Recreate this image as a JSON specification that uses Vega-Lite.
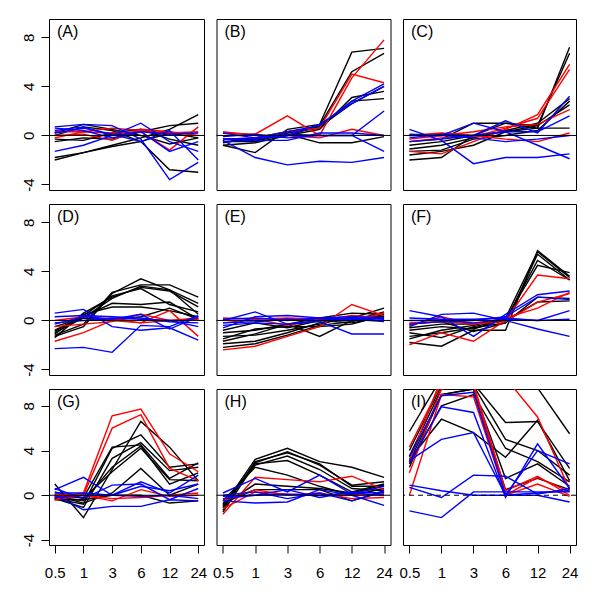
{
"$schema":"https://vega.github.io/schema/vega-lite/v6.json",
"background":"white",
"padding":{"left":20,"top":18,"right":5,"bottom":5},
"autosize":{"type":"pad"},
"config":{"view":{"stroke":"black","strokeWidth":1},"font":"Liberation Sans",
"title":{"anchor":"start","frame":"group","orient":"top","offset":-21,"baseline":"top","dx":8,"fontSize":16,"fontWeight":"normal","font":"Liberation Sans","color":"black"},
"axis":{"labelFont":"Liberation Sans","labelFontSize":15,"labelColor":"black","tickColor":"black","grid":false,"domain":false,"title":null,"tickSize":8}},
"datasets":{
"zero":[{"ref":0}],
"expr":[
{"p":"A","id":"A1","g":"c1","t":0.5,"v":-2.0},{"p":"A","id":"A1","g":"c1","t":1,"v":-1.4},{"p":"A","id":"A1","g":"c1","t":3,"v":-0.8},{"p":"A","id":"A1","g":"c1","t":6,"v":-0.2},{"p":"A","id":"A1","g":"c1","t":12,"v":0.5},{"p":"A","id":"A1","g":"c1","t":24,"v":1.7},
{"p":"A","id":"A2","g":"c1","t":0.5,"v":-1.8},{"p":"A","id":"A2","g":"c1","t":1,"v":-1.4},{"p":"A","id":"A2","g":"c1","t":3,"v":-0.9},{"p":"A","id":"A2","g":"c1","t":6,"v":-0.5},{"p":"A","id":"A2","g":"c1","t":12,"v":-2.8},{"p":"A","id":"A2","g":"c1","t":24,"v":-3.0},
{"p":"A","id":"A3","g":"c1","t":0.5,"v":0.2},{"p":"A","id":"A3","g":"c1","t":1,"v":0.9},{"p":"A","id":"A3","g":"c1","t":3,"v":0.5},{"p":"A","id":"A3","g":"c1","t":6,"v":0.0},{"p":"A","id":"A3","g":"c1","t":12,"v":-0.7},{"p":"A","id":"A3","g":"c1","t":24,"v":-0.2},
{"p":"A","id":"A4","g":"c1","t":0.5,"v":-0.5},{"p":"A","id":"A4","g":"c1","t":1,"v":-0.2},{"p":"A","id":"A4","g":"c1","t":3,"v":-0.3},{"p":"A","id":"A4","g":"c1","t":6,"v":0.3},{"p":"A","id":"A4","g":"c1","t":12,"v":0.8},{"p":"A","id":"A4","g":"c1","t":24,"v":1.0},
{"p":"A","id":"A5","g":"c1","t":0.5,"v":0.0},{"p":"A","id":"A5","g":"c1","t":1,"v":0.7},{"p":"A","id":"A5","g":"c1","t":3,"v":0.4},{"p":"A","id":"A5","g":"c1","t":6,"v":-0.5},{"p":"A","id":"A5","g":"c1","t":12,"v":0.2},{"p":"A","id":"A5","g":"c1","t":24,"v":-0.2},
{"p":"A","id":"A6","g":"c1","t":0.5,"v":-0.3},{"p":"A","id":"A6","g":"c1","t":1,"v":-0.4},{"p":"A","id":"A6","g":"c1","t":3,"v":0.2},{"p":"A","id":"A6","g":"c1","t":6,"v":0.5},{"p":"A","id":"A6","g":"c1","t":12,"v":-0.3},{"p":"A","id":"A6","g":"c1","t":24,"v":-0.8},
{"p":"A","id":"A7","g":"c2","t":0.5,"v":0.0},{"p":"A","id":"A7","g":"c2","t":1,"v":0.1},{"p":"A","id":"A7","g":"c2","t":3,"v":-0.4},{"p":"A","id":"A7","g":"c2","t":6,"v":0.5},{"p":"A","id":"A7","g":"c2","t":12,"v":0.3},{"p":"A","id":"A7","g":"c2","t":24,"v":0.0},
{"p":"A","id":"A8","g":"c2","t":0.5,"v":-0.2},{"p":"A","id":"A8","g":"c2","t":1,"v":0.3},{"p":"A","id":"A8","g":"c2","t":3,"v":0.2},{"p":"A","id":"A8","g":"c2","t":6,"v":0.3},{"p":"A","id":"A8","g":"c2","t":12,"v":-1.2},{"p":"A","id":"A8","g":"c2","t":24,"v":0.7},
{"p":"A","id":"A9","g":"c2","t":0.5,"v":0.3},{"p":"A","id":"A9","g":"c2","t":1,"v":0.3},{"p":"A","id":"A9","g":"c2","t":3,"v":0.6},{"p":"A","id":"A9","g":"c2","t":6,"v":0.4},{"p":"A","id":"A9","g":"c2","t":12,"v":0.2},{"p":"A","id":"A9","g":"c2","t":24,"v":0.3},
{"p":"A","id":"A10","g":"c3","t":0.5,"v":0.7},{"p":"A","id":"A10","g":"c3","t":1,"v":0.9},{"p":"A","id":"A10","g":"c3","t":3,"v":0.8},{"p":"A","id":"A10","g":"c3","t":6,"v":-0.3},{"p":"A","id":"A10","g":"c3","t":12,"v":-3.6},{"p":"A","id":"A10","g":"c3","t":24,"v":-2.2},
{"p":"A","id":"A11","g":"c3","t":0.5,"v":-1.3},{"p":"A","id":"A11","g":"c3","t":1,"v":-0.8},{"p":"A","id":"A11","g":"c3","t":3,"v":0.0},{"p":"A","id":"A11","g":"c3","t":6,"v":1.0},{"p":"A","id":"A11","g":"c3","t":12,"v":-0.5},{"p":"A","id":"A11","g":"c3","t":24,"v":-1.3},
{"p":"A","id":"A12","g":"c3","t":0.5,"v":0.6},{"p":"A","id":"A12","g":"c3","t":1,"v":0.4},{"p":"A","id":"A12","g":"c3","t":3,"v":-0.2},{"p":"A","id":"A12","g":"c3","t":6,"v":0.3},{"p":"A","id":"A12","g":"c3","t":12,"v":-1.3},{"p":"A","id":"A12","g":"c3","t":24,"v":-0.5},
{"p":"A","id":"A13","g":"c3","t":0.5,"v":0.4},{"p":"A","id":"A13","g":"c3","t":1,"v":0.7},{"p":"A","id":"A13","g":"c3","t":3,"v":0.0},{"p":"A","id":"A13","g":"c3","t":6,"v":0.3},{"p":"A","id":"A13","g":"c3","t":12,"v":0.1},{"p":"A","id":"A13","g":"c3","t":24,"v":0.2},
{"p":"A","id":"A14","g":"c3","t":0.5,"v":0.2},{"p":"A","id":"A14","g":"c3","t":1,"v":0.6},{"p":"A","id":"A14","g":"c3","t":3,"v":0.1},{"p":"A","id":"A14","g":"c3","t":6,"v":-0.5},{"p":"A","id":"A14","g":"c3","t":12,"v":0.4},{"p":"A","id":"A14","g":"c3","t":24,"v":-2.0},
{"p":"B","id":"B1","g":"c1","t":0.5,"v":-0.8},{"p":"B","id":"B1","g":"c1","t":1,"v":-1.4},{"p":"B","id":"B1","g":"c1","t":3,"v":0.5},{"p":"B","id":"B1","g":"c1","t":6,"v":0.9},{"p":"B","id":"B1","g":"c1","t":12,"v":6.8},{"p":"B","id":"B1","g":"c1","t":24,"v":7.1},
{"p":"B","id":"B2","g":"c1","t":0.5,"v":-0.5},{"p":"B","id":"B2","g":"c1","t":1,"v":-0.3},{"p":"B","id":"B2","g":"c1","t":3,"v":0.0},{"p":"B","id":"B2","g":"c1","t":6,"v":0.8},{"p":"B","id":"B2","g":"c1","t":12,"v":5.2},{"p":"B","id":"B2","g":"c1","t":24,"v":6.7},
{"p":"B","id":"B3","g":"c1","t":0.5,"v":-0.8},{"p":"B","id":"B3","g":"c1","t":1,"v":-0.6},{"p":"B","id":"B3","g":"c1","t":3,"v":0.0},{"p":"B","id":"B3","g":"c1","t":6,"v":0.5},{"p":"B","id":"B3","g":"c1","t":12,"v":3.1},{"p":"B","id":"B3","g":"c1","t":24,"v":3.6},
{"p":"B","id":"B4","g":"c1","t":0.5,"v":-0.5},{"p":"B","id":"B4","g":"c1","t":1,"v":-0.5},{"p":"B","id":"B4","g":"c1","t":3,"v":0.2},{"p":"B","id":"B4","g":"c1","t":6,"v":0.6},{"p":"B","id":"B4","g":"c1","t":12,"v":2.8},{"p":"B","id":"B4","g":"c1","t":24,"v":3.0},
{"p":"B","id":"B5","g":"c1","t":0.5,"v":-0.3},{"p":"B","id":"B5","g":"c1","t":1,"v":-0.4},{"p":"B","id":"B5","g":"c1","t":3,"v":0.1},{"p":"B","id":"B5","g":"c1","t":6,"v":-0.6},{"p":"B","id":"B5","g":"c1","t":12,"v":-0.6},{"p":"B","id":"B5","g":"c1","t":24,"v":-0.1},
{"p":"B","id":"B6","g":"c1","t":0.5,"v":-0.6},{"p":"B","id":"B6","g":"c1","t":1,"v":-0.2},{"p":"B","id":"B6","g":"c1","t":3,"v":0.3},{"p":"B","id":"B6","g":"c1","t":6,"v":0.7},{"p":"B","id":"B6","g":"c1","t":12,"v":2.6},{"p":"B","id":"B6","g":"c1","t":24,"v":4.0},
{"p":"B","id":"B7","g":"c2","t":0.5,"v":0.2},{"p":"B","id":"B7","g":"c2","t":1,"v":0.1},{"p":"B","id":"B7","g":"c2","t":3,"v":1.6},{"p":"B","id":"B7","g":"c2","t":6,"v":0.0},{"p":"B","id":"B7","g":"c2","t":12,"v":4.7},{"p":"B","id":"B7","g":"c2","t":24,"v":7.8},
{"p":"B","id":"B8","g":"c2","t":0.5,"v":-0.3},{"p":"B","id":"B8","g":"c2","t":1,"v":-0.2},{"p":"B","id":"B8","g":"c2","t":3,"v":0.3},{"p":"B","id":"B8","g":"c2","t":6,"v":0.6},{"p":"B","id":"B8","g":"c2","t":12,"v":5.0},{"p":"B","id":"B8","g":"c2","t":24,"v":4.3},
{"p":"B","id":"B9","g":"c2","t":0.5,"v":0.3},{"p":"B","id":"B9","g":"c2","t":1,"v":0.0},{"p":"B","id":"B9","g":"c2","t":3,"v":0.0},{"p":"B","id":"B9","g":"c2","t":6,"v":-0.2},{"p":"B","id":"B9","g":"c2","t":12,"v":0.5},{"p":"B","id":"B9","g":"c2","t":24,"v":0.0},
{"p":"B","id":"B10","g":"c3","t":0.5,"v":-0.4},{"p":"B","id":"B10","g":"c3","t":1,"v":-1.8},{"p":"B","id":"B10","g":"c3","t":3,"v":-2.4},{"p":"B","id":"B10","g":"c3","t":6,"v":-2.1},{"p":"B","id":"B10","g":"c3","t":12,"v":-2.2},{"p":"B","id":"B10","g":"c3","t":24,"v":-1.8},
{"p":"B","id":"B11","g":"c3","t":0.5,"v":-0.3},{"p":"B","id":"B11","g":"c3","t":1,"v":-0.2},{"p":"B","id":"B11","g":"c3","t":3,"v":0.3},{"p":"B","id":"B11","g":"c3","t":6,"v":0.8},{"p":"B","id":"B11","g":"c3","t":12,"v":2.8},{"p":"B","id":"B11","g":"c3","t":24,"v":4.2},
{"p":"B","id":"B12","g":"c3","t":0.5,"v":-0.1},{"p":"B","id":"B12","g":"c3","t":1,"v":0.1},{"p":"B","id":"B12","g":"c3","t":3,"v":-0.2},{"p":"B","id":"B12","g":"c3","t":6,"v":0.0},{"p":"B","id":"B12","g":"c3","t":12,"v":0.0},{"p":"B","id":"B12","g":"c3","t":24,"v":2.0},
{"p":"B","id":"B13","g":"c3","t":0.5,"v":0.2},{"p":"B","id":"B13","g":"c3","t":1,"v":-0.2},{"p":"B","id":"B13","g":"c3","t":3,"v":0.1},{"p":"B","id":"B13","g":"c3","t":6,"v":0.0},{"p":"B","id":"B13","g":"c3","t":12,"v":0.0},{"p":"B","id":"B13","g":"c3","t":24,"v":-1.3},
{"p":"B","id":"B14","g":"c3","t":0.5,"v":-0.3},{"p":"B","id":"B14","g":"c3","t":1,"v":-0.3},{"p":"B","id":"B14","g":"c3","t":3,"v":0.0},{"p":"B","id":"B14","g":"c3","t":6,"v":0.9},{"p":"B","id":"B14","g":"c3","t":12,"v":2.6},{"p":"B","id":"B14","g":"c3","t":24,"v":4.0},
{"p":"B","id":"B15","g":"c3","t":0.5,"v":-0.5},{"p":"B","id":"B15","g":"c3","t":1,"v":-0.4},{"p":"B","id":"B15","g":"c3","t":3,"v":-0.4},{"p":"B","id":"B15","g":"c3","t":6,"v":0.2},{"p":"B","id":"B15","g":"c3","t":12,"v":0.2},{"p":"B","id":"B15","g":"c3","t":24,"v":0.0},
{"p":"C","id":"C1","g":"c1","t":0.5,"v":-2.0},{"p":"C","id":"C1","g":"c1","t":1,"v":-1.8},{"p":"C","id":"C1","g":"c1","t":3,"v":0.0},{"p":"C","id":"C1","g":"c1","t":6,"v":0.3},{"p":"C","id":"C1","g":"c1","t":12,"v":0.6},{"p":"C","id":"C1","g":"c1","t":24,"v":7.2},
{"p":"C","id":"C2","g":"c1","t":0.5,"v":-1.6},{"p":"C","id":"C2","g":"c1","t":1,"v":-1.3},{"p":"C","id":"C2","g":"c1","t":3,"v":-0.8},{"p":"C","id":"C2","g":"c1","t":6,"v":0.3},{"p":"C","id":"C2","g":"c1","t":12,"v":0.8},{"p":"C","id":"C2","g":"c1","t":24,"v":6.7},
{"p":"C","id":"C3","g":"c1","t":0.5,"v":-1.1},{"p":"C","id":"C3","g":"c1","t":1,"v":-0.8},{"p":"C","id":"C3","g":"c1","t":3,"v":-0.2},{"p":"C","id":"C3","g":"c1","t":6,"v":0.4},{"p":"C","id":"C3","g":"c1","t":12,"v":1.0},{"p":"C","id":"C3","g":"c1","t":24,"v":3.0},
{"p":"C","id":"C4","g":"c1","t":0.5,"v":-0.8},{"p":"C","id":"C4","g":"c1","t":1,"v":-0.5},{"p":"C","id":"C4","g":"c1","t":3,"v":0.0},{"p":"C","id":"C4","g":"c1","t":6,"v":1.0},{"p":"C","id":"C4","g":"c1","t":12,"v":0.8},{"p":"C","id":"C4","g":"c1","t":24,"v":2.5},
{"p":"C","id":"C5","g":"c1","t":0.5,"v":-0.5},{"p":"C","id":"C5","g":"c1","t":1,"v":-0.3},{"p":"C","id":"C5","g":"c1","t":3,"v":1.0},{"p":"C","id":"C5","g":"c1","t":6,"v":1.0},{"p":"C","id":"C5","g":"c1","t":12,"v":0.6},{"p":"C","id":"C5","g":"c1","t":24,"v":0.6},
{"p":"C","id":"C6","g":"c1","t":0.5,"v":-1.3},{"p":"C","id":"C6","g":"c1","t":1,"v":-1.2},{"p":"C","id":"C6","g":"c1","t":3,"v":-0.3},{"p":"C","id":"C6","g":"c1","t":6,"v":0.0},{"p":"C","id":"C6","g":"c1","t":12,"v":0.4},{"p":"C","id":"C6","g":"c1","t":24,"v":2.8},
{"p":"C","id":"C7","g":"c2","t":0.5,"v":-1.3},{"p":"C","id":"C7","g":"c2","t":1,"v":-1.5},{"p":"C","id":"C7","g":"c2","t":3,"v":-0.5},{"p":"C","id":"C7","g":"c2","t":6,"v":0.5},{"p":"C","id":"C7","g":"c2","t":12,"v":1.7},{"p":"C","id":"C7","g":"c2","t":24,"v":5.8},
{"p":"C","id":"C8","g":"c2","t":0.5,"v":-0.5},{"p":"C","id":"C8","g":"c2","t":1,"v":-0.2},{"p":"C","id":"C8","g":"c2","t":3,"v":-0.1},{"p":"C","id":"C8","g":"c2","t":6,"v":0.6},{"p":"C","id":"C8","g":"c2","t":12,"v":1.4},{"p":"C","id":"C8","g":"c2","t":24,"v":5.4},
{"p":"C","id":"C9","g":"c2","t":0.5,"v":0.0},{"p":"C","id":"C9","g":"c2","t":1,"v":0.2},{"p":"C","id":"C9","g":"c2","t":3,"v":0.0},{"p":"C","id":"C9","g":"c2","t":6,"v":-0.3},{"p":"C","id":"C9","g":"c2","t":12,"v":-0.5},{"p":"C","id":"C9","g":"c2","t":24,"v":0.2},
{"p":"C","id":"C10","g":"c2","t":0.5,"v":-0.3},{"p":"C","id":"C10","g":"c2","t":1,"v":0.0},{"p":"C","id":"C10","g":"c2","t":3,"v":0.3},{"p":"C","id":"C10","g":"c2","t":6,"v":0.7},{"p":"C","id":"C10","g":"c2","t":12,"v":0.9},{"p":"C","id":"C10","g":"c2","t":24,"v":2.1},
{"p":"C","id":"C11","g":"c3","t":0.5,"v":0.5},{"p":"C","id":"C11","g":"c3","t":1,"v":-0.4},{"p":"C","id":"C11","g":"c3","t":3,"v":-2.3},{"p":"C","id":"C11","g":"c3","t":6,"v":-1.8},{"p":"C","id":"C11","g":"c3","t":12,"v":-1.8},{"p":"C","id":"C11","g":"c3","t":24,"v":-1.5},
{"p":"C","id":"C12","g":"c3","t":0.5,"v":0.0},{"p":"C","id":"C12","g":"c3","t":1,"v":0.0},{"p":"C","id":"C12","g":"c3","t":3,"v":1.0},{"p":"C","id":"C12","g":"c3","t":6,"v":0.3},{"p":"C","id":"C12","g":"c3","t":12,"v":-0.8},{"p":"C","id":"C12","g":"c3","t":24,"v":-1.9},
{"p":"C","id":"C13","g":"c3","t":0.5,"v":-0.2},{"p":"C","id":"C13","g":"c3","t":1,"v":0.1},{"p":"C","id":"C13","g":"c3","t":3,"v":0.0},{"p":"C","id":"C13","g":"c3","t":6,"v":1.2},{"p":"C","id":"C13","g":"c3","t":12,"v":0.2},{"p":"C","id":"C13","g":"c3","t":24,"v":3.2},
{"p":"C","id":"C14","g":"c3","t":0.5,"v":-0.5},{"p":"C","id":"C14","g":"c3","t":1,"v":-0.3},{"p":"C","id":"C14","g":"c3","t":3,"v":0.0},{"p":"C","id":"C14","g":"c3","t":6,"v":0.3},{"p":"C","id":"C14","g":"c3","t":12,"v":0.3},{"p":"C","id":"C14","g":"c3","t":24,"v":1.6},
{"p":"C","id":"C15","g":"c3","t":0.5,"v":0.1},{"p":"C","id":"C15","g":"c3","t":1,"v":0.0},{"p":"C","id":"C15","g":"c3","t":3,"v":-0.2},{"p":"C","id":"C15","g":"c3","t":6,"v":-0.5},{"p":"C","id":"C15","g":"c3","t":12,"v":-0.3},{"p":"C","id":"C15","g":"c3","t":24,"v":0.0},
{"p":"D","id":"D1","g":"c1","t":0.5,"v":-1.2},{"p":"D","id":"D1","g":"c1","t":1,"v":-0.3},{"p":"D","id":"D1","g":"c1","t":3,"v":2.3},{"p":"D","id":"D1","g":"c1","t":6,"v":2.9},{"p":"D","id":"D1","g":"c1","t":12,"v":2.9},{"p":"D","id":"D1","g":"c1","t":24,"v":1.9},
{"p":"D","id":"D2","g":"c1","t":0.5,"v":-1.3},{"p":"D","id":"D2","g":"c1","t":1,"v":-0.5},{"p":"D","id":"D2","g":"c1","t":3,"v":2.2},{"p":"D","id":"D2","g":"c1","t":6,"v":3.4},{"p":"D","id":"D2","g":"c1","t":12,"v":2.5},{"p":"D","id":"D2","g":"c1","t":24,"v":1.4},
{"p":"D","id":"D3","g":"c1","t":0.5,"v":-1.0},{"p":"D","id":"D3","g":"c1","t":1,"v":0.2},{"p":"D","id":"D3","g":"c1","t":3,"v":1.8},{"p":"D","id":"D3","g":"c1","t":6,"v":2.8},{"p":"D","id":"D3","g":"c1","t":12,"v":2.5},{"p":"D","id":"D3","g":"c1","t":24,"v":0.5},
{"p":"D","id":"D4","g":"c1","t":0.5,"v":-1.1},{"p":"D","id":"D4","g":"c1","t":1,"v":0.5},{"p":"D","id":"D4","g":"c1","t":3,"v":1.1},{"p":"D","id":"D4","g":"c1","t":6,"v":1.1},{"p":"D","id":"D4","g":"c1","t":12,"v":0.8},{"p":"D","id":"D4","g":"c1","t":24,"v":0.3},
{"p":"D","id":"D5","g":"c1","t":0.5,"v":-0.8},{"p":"D","id":"D5","g":"c1","t":1,"v":0.3},{"p":"D","id":"D5","g":"c1","t":3,"v":1.4},{"p":"D","id":"D5","g":"c1","t":6,"v":1.3},{"p":"D","id":"D5","g":"c1","t":12,"v":1.5},{"p":"D","id":"D5","g":"c1","t":24,"v":0.1},
{"p":"D","id":"D6","g":"c1","t":0.5,"v":-1.4},{"p":"D","id":"D6","g":"c1","t":1,"v":0.6},{"p":"D","id":"D6","g":"c1","t":3,"v":1.9},{"p":"D","id":"D6","g":"c1","t":6,"v":2.7},{"p":"D","id":"D6","g":"c1","t":12,"v":2.4},{"p":"D","id":"D6","g":"c1","t":24,"v":1.1},
{"p":"D","id":"D7","g":"c1","t":0.5,"v":-0.5},{"p":"D","id":"D7","g":"c1","t":1,"v":0.2},{"p":"D","id":"D7","g":"c1","t":3,"v":0.0},{"p":"D","id":"D7","g":"c1","t":6,"v":0.3},{"p":"D","id":"D7","g":"c1","t":12,"v":1.0},{"p":"D","id":"D7","g":"c1","t":24,"v":0.1},
{"p":"D","id":"D8","g":"c1","t":0.5,"v":-0.9},{"p":"D","id":"D8","g":"c1","t":1,"v":0.4},{"p":"D","id":"D8","g":"c1","t":3,"v":2.0},{"p":"D","id":"D8","g":"c1","t":6,"v":2.6},{"p":"D","id":"D8","g":"c1","t":12,"v":1.3},{"p":"D","id":"D8","g":"c1","t":24,"v":0.7},
{"p":"D","id":"D9","g":"c2","t":0.5,"v":-1.7},{"p":"D","id":"D9","g":"c2","t":1,"v":-1.0},{"p":"D","id":"D9","g":"c2","t":3,"v":0.0},{"p":"D","id":"D9","g":"c2","t":6,"v":-0.2},{"p":"D","id":"D9","g":"c2","t":12,"v":0.8},{"p":"D","id":"D9","g":"c2","t":24,"v":-1.3},
{"p":"D","id":"D10","g":"c2","t":0.5,"v":-0.5},{"p":"D","id":"D10","g":"c2","t":1,"v":-0.3},{"p":"D","id":"D10","g":"c2","t":3,"v":-0.1},{"p":"D","id":"D10","g":"c2","t":6,"v":0.5},{"p":"D","id":"D10","g":"c2","t":12,"v":0.0},{"p":"D","id":"D10","g":"c2","t":24,"v":0.2},
{"p":"D","id":"D11","g":"c2","t":0.5,"v":0.0},{"p":"D","id":"D11","g":"c2","t":1,"v":0.3},{"p":"D","id":"D11","g":"c2","t":3,"v":0.1},{"p":"D","id":"D11","g":"c2","t":6,"v":-0.2},{"p":"D","id":"D11","g":"c2","t":12,"v":0.0},{"p":"D","id":"D11","g":"c2","t":24,"v":0.1},
{"p":"D","id":"D12","g":"c3","t":0.5,"v":-2.3},{"p":"D","id":"D12","g":"c3","t":1,"v":-2.2},{"p":"D","id":"D12","g":"c3","t":3,"v":-2.6},{"p":"D","id":"D12","g":"c3","t":6,"v":-0.4},{"p":"D","id":"D12","g":"c3","t":12,"v":-0.5},{"p":"D","id":"D12","g":"c3","t":24,"v":0.4},
{"p":"D","id":"D13","g":"c3","t":0.5,"v":0.6},{"p":"D","id":"D13","g":"c3","t":1,"v":0.9},{"p":"D","id":"D13","g":"c3","t":3,"v":-0.5},{"p":"D","id":"D13","g":"c3","t":6,"v":-0.8},{"p":"D","id":"D13","g":"c3","t":12,"v":-0.6},{"p":"D","id":"D13","g":"c3","t":24,"v":-1.6},
{"p":"D","id":"D14","g":"c3","t":0.5,"v":0.3},{"p":"D","id":"D14","g":"c3","t":1,"v":0.4},{"p":"D","id":"D14","g":"c3","t":3,"v":0.3},{"p":"D","id":"D14","g":"c3","t":6,"v":0.2},{"p":"D","id":"D14","g":"c3","t":12,"v":-0.1},{"p":"D","id":"D14","g":"c3","t":24,"v":-0.2},
{"p":"D","id":"D15","g":"c3","t":0.5,"v":-0.3},{"p":"D","id":"D15","g":"c3","t":1,"v":0.3},{"p":"D","id":"D15","g":"c3","t":3,"v":0.1},{"p":"D","id":"D15","g":"c3","t":6,"v":0.5},{"p":"D","id":"D15","g":"c3","t":12,"v":-0.7},{"p":"D","id":"D15","g":"c3","t":24,"v":0.3},
{"p":"D","id":"D16","g":"c3","t":0.5,"v":-0.2},{"p":"D","id":"D16","g":"c3","t":1,"v":0.0},{"p":"D","id":"D16","g":"c3","t":3,"v":0.2},{"p":"D","id":"D16","g":"c3","t":6,"v":0.1},{"p":"D","id":"D16","g":"c3","t":12,"v":0.0},{"p":"D","id":"D16","g":"c3","t":24,"v":-0.5},
{"p":"E","id":"E1","g":"c1","t":0.5,"v":-1.9},{"p":"E","id":"E1","g":"c1","t":1,"v":-1.7},{"p":"E","id":"E1","g":"c1","t":3,"v":-1.0},{"p":"E","id":"E1","g":"c1","t":6,"v":-0.2},{"p":"E","id":"E1","g":"c1","t":12,"v":0.2},{"p":"E","id":"E1","g":"c1","t":24,"v":1.0},
{"p":"E","id":"E2","g":"c1","t":0.5,"v":-1.7},{"p":"E","id":"E2","g":"c1","t":1,"v":-1.1},{"p":"E","id":"E2","g":"c1","t":3,"v":-0.3},{"p":"E","id":"E2","g":"c1","t":6,"v":-1.3},{"p":"E","id":"E2","g":"c1","t":12,"v":0.0},{"p":"E","id":"E2","g":"c1","t":24,"v":0.7},
{"p":"E","id":"E3","g":"c1","t":0.5,"v":-1.5},{"p":"E","id":"E3","g":"c1","t":1,"v":-0.7},{"p":"E","id":"E3","g":"c1","t":3,"v":-0.5},{"p":"E","id":"E3","g":"c1","t":6,"v":-0.5},{"p":"E","id":"E3","g":"c1","t":12,"v":-0.3},{"p":"E","id":"E3","g":"c1","t":24,"v":0.4},
{"p":"E","id":"E4","g":"c1","t":0.5,"v":-1.3},{"p":"E","id":"E4","g":"c1","t":1,"v":-1.2},{"p":"E","id":"E4","g":"c1","t":3,"v":-0.8},{"p":"E","id":"E4","g":"c1","t":6,"v":-0.3},{"p":"E","id":"E4","g":"c1","t":12,"v":0.3},{"p":"E","id":"E4","g":"c1","t":24,"v":0.3},
{"p":"E","id":"E5","g":"c1","t":0.5,"v":-1.0},{"p":"E","id":"E5","g":"c1","t":1,"v":-0.8},{"p":"E","id":"E5","g":"c1","t":3,"v":-0.3},{"p":"E","id":"E5","g":"c1","t":6,"v":0.2},{"p":"E","id":"E5","g":"c1","t":12,"v":0.6},{"p":"E","id":"E5","g":"c1","t":24,"v":0.5},
{"p":"E","id":"E6","g":"c1","t":0.5,"v":-0.8},{"p":"E","id":"E6","g":"c1","t":1,"v":-0.2},{"p":"E","id":"E6","g":"c1","t":3,"v":-0.6},{"p":"E","id":"E6","g":"c1","t":6,"v":0.0},{"p":"E","id":"E6","g":"c1","t":12,"v":-0.2},{"p":"E","id":"E6","g":"c1","t":24,"v":0.3},
{"p":"E","id":"E7","g":"c1","t":0.5,"v":-2.2},{"p":"E","id":"E7","g":"c1","t":1,"v":-1.9},{"p":"E","id":"E7","g":"c1","t":3,"v":-1.2},{"p":"E","id":"E7","g":"c1","t":6,"v":-0.4},{"p":"E","id":"E7","g":"c1","t":12,"v":-0.1},{"p":"E","id":"E7","g":"c1","t":24,"v":0.5},
{"p":"E","id":"E8","g":"c2","t":0.5,"v":-2.4},{"p":"E","id":"E8","g":"c2","t":1,"v":-2.1},{"p":"E","id":"E8","g":"c2","t":3,"v":-1.3},{"p":"E","id":"E8","g":"c2","t":6,"v":-0.5},{"p":"E","id":"E8","g":"c2","t":12,"v":1.3},{"p":"E","id":"E8","g":"c2","t":24,"v":0.4},
{"p":"E","id":"E9","g":"c2","t":0.5,"v":-0.2},{"p":"E","id":"E9","g":"c2","t":1,"v":0.1},{"p":"E","id":"E9","g":"c2","t":3,"v":-0.4},{"p":"E","id":"E9","g":"c2","t":6,"v":0.0},{"p":"E","id":"E9","g":"c2","t":12,"v":0.4},{"p":"E","id":"E9","g":"c2","t":24,"v":0.2},
{"p":"E","id":"E10","g":"c2","t":0.5,"v":0.2},{"p":"E","id":"E10","g":"c2","t":1,"v":0.1},{"p":"E","id":"E10","g":"c2","t":3,"v":0.2},{"p":"E","id":"E10","g":"c2","t":6,"v":0.1},{"p":"E","id":"E10","g":"c2","t":12,"v":0.0},{"p":"E","id":"E10","g":"c2","t":24,"v":0.6},
{"p":"E","id":"E11","g":"c3","t":0.5,"v":0.0},{"p":"E","id":"E11","g":"c3","t":1,"v":0.7},{"p":"E","id":"E11","g":"c3","t":3,"v":-0.3},{"p":"E","id":"E11","g":"c3","t":6,"v":-0.1},{"p":"E","id":"E11","g":"c3","t":12,"v":-1.1},{"p":"E","id":"E11","g":"c3","t":24,"v":-1.1},
{"p":"E","id":"E12","g":"c3","t":0.5,"v":-0.6},{"p":"E","id":"E12","g":"c3","t":1,"v":0.3},{"p":"E","id":"E12","g":"c3","t":3,"v":0.4},{"p":"E","id":"E12","g":"c3","t":6,"v":0.2},{"p":"E","id":"E12","g":"c3","t":12,"v":0.3},{"p":"E","id":"E12","g":"c3","t":24,"v":0.2},
{"p":"E","id":"E13","g":"c3","t":0.5,"v":-0.2},{"p":"E","id":"E13","g":"c3","t":1,"v":-0.1},{"p":"E","id":"E13","g":"c3","t":3,"v":0.1},{"p":"E","id":"E13","g":"c3","t":6,"v":0.0},{"p":"E","id":"E13","g":"c3","t":12,"v":0.2},{"p":"E","id":"E13","g":"c3","t":24,"v":0.1},
{"p":"E","id":"E14","g":"c3","t":0.5,"v":0.1},{"p":"E","id":"E14","g":"c3","t":1,"v":0.2},{"p":"E","id":"E14","g":"c3","t":3,"v":0.0},{"p":"E","id":"E14","g":"c3","t":6,"v":0.2},{"p":"E","id":"E14","g":"c3","t":12,"v":0.1},{"p":"E","id":"E14","g":"c3","t":24,"v":-0.1},
{"p":"E","id":"E15","g":"c3","t":0.5,"v":-0.4},{"p":"E","id":"E15","g":"c3","t":1,"v":-0.2},{"p":"E","id":"E15","g":"c3","t":3,"v":-0.3},{"p":"E","id":"E15","g":"c3","t":6,"v":0.0},{"p":"E","id":"E15","g":"c3","t":12,"v":0.0},{"p":"E","id":"E15","g":"c3","t":24,"v":0.2},
{"p":"F","id":"F1","g":"c1","t":0.5,"v":-1.8},{"p":"F","id":"F1","g":"c1","t":1,"v":-2.1},{"p":"F","id":"F1","g":"c1","t":3,"v":-0.8},{"p":"F","id":"F1","g":"c1","t":6,"v":-0.8},{"p":"F","id":"F1","g":"c1","t":12,"v":5.7},{"p":"F","id":"F1","g":"c1","t":24,"v":3.6},
{"p":"F","id":"F2","g":"c1","t":0.5,"v":-1.3},{"p":"F","id":"F2","g":"c1","t":1,"v":-1.0},{"p":"F","id":"F2","g":"c1","t":3,"v":-0.6},{"p":"F","id":"F2","g":"c1","t":6,"v":-0.2},{"p":"F","id":"F2","g":"c1","t":12,"v":5.4},{"p":"F","id":"F2","g":"c1","t":24,"v":3.3},
{"p":"F","id":"F3","g":"c1","t":0.5,"v":-1.0},{"p":"F","id":"F3","g":"c1","t":1,"v":-1.4},{"p":"F","id":"F3","g":"c1","t":3,"v":-0.5},{"p":"F","id":"F3","g":"c1","t":6,"v":0.0},{"p":"F","id":"F3","g":"c1","t":12,"v":4.9},{"p":"F","id":"F3","g":"c1","t":24,"v":3.3},
{"p":"F","id":"F4","g":"c1","t":0.5,"v":-0.8},{"p":"F","id":"F4","g":"c1","t":1,"v":-0.5},{"p":"F","id":"F4","g":"c1","t":3,"v":-0.7},{"p":"F","id":"F4","g":"c1","t":6,"v":0.1},{"p":"F","id":"F4","g":"c1","t":12,"v":4.5},{"p":"F","id":"F4","g":"c1","t":24,"v":3.9},
{"p":"F","id":"F5","g":"c1","t":0.5,"v":-1.5},{"p":"F","id":"F5","g":"c1","t":1,"v":-0.8},{"p":"F","id":"F5","g":"c1","t":3,"v":-0.4},{"p":"F","id":"F5","g":"c1","t":6,"v":0.2},{"p":"F","id":"F5","g":"c1","t":12,"v":5.6},{"p":"F","id":"F5","g":"c1","t":24,"v":3.5},
{"p":"F","id":"F6","g":"c1","t":0.5,"v":-0.6},{"p":"F","id":"F6","g":"c1","t":1,"v":-0.3},{"p":"F","id":"F6","g":"c1","t":3,"v":-0.3},{"p":"F","id":"F6","g":"c1","t":6,"v":0.0},{"p":"F","id":"F6","g":"c1","t":12,"v":1.5},{"p":"F","id":"F6","g":"c1","t":24,"v":1.6},
{"p":"F","id":"F7","g":"c1","t":0.5,"v":-0.3},{"p":"F","id":"F7","g":"c1","t":1,"v":-0.1},{"p":"F","id":"F7","g":"c1","t":3,"v":-0.9},{"p":"F","id":"F7","g":"c1","t":6,"v":-0.2},{"p":"F","id":"F7","g":"c1","t":12,"v":1.9},{"p":"F","id":"F7","g":"c1","t":24,"v":1.8},
{"p":"F","id":"F8","g":"c2","t":0.5,"v":-2.0},{"p":"F","id":"F8","g":"c2","t":1,"v":-1.0},{"p":"F","id":"F8","g":"c2","t":3,"v":-1.7},{"p":"F","id":"F8","g":"c2","t":6,"v":0.0},{"p":"F","id":"F8","g":"c2","t":12,"v":3.7},{"p":"F","id":"F8","g":"c2","t":24,"v":3.4},
{"p":"F","id":"F9","g":"c2","t":0.5,"v":-0.2},{"p":"F","id":"F9","g":"c2","t":1,"v":-0.1},{"p":"F","id":"F9","g":"c2","t":3,"v":-0.3},{"p":"F","id":"F9","g":"c2","t":6,"v":0.2},{"p":"F","id":"F9","g":"c2","t":12,"v":1.0},{"p":"F","id":"F9","g":"c2","t":24,"v":2.3},
{"p":"F","id":"F10","g":"c2","t":0.5,"v":-0.4},{"p":"F","id":"F10","g":"c2","t":1,"v":0.3},{"p":"F","id":"F10","g":"c2","t":3,"v":-0.3},{"p":"F","id":"F10","g":"c2","t":6,"v":-0.1},{"p":"F","id":"F10","g":"c2","t":12,"v":1.5},{"p":"F","id":"F10","g":"c2","t":24,"v":2.2},
{"p":"F","id":"F11","g":"c3","t":0.5,"v":0.8},{"p":"F","id":"F11","g":"c3","t":1,"v":0.3},{"p":"F","id":"F11","g":"c3","t":3,"v":-1.3},{"p":"F","id":"F11","g":"c3","t":6,"v":0.5},{"p":"F","id":"F11","g":"c3","t":12,"v":2.1},{"p":"F","id":"F11","g":"c3","t":24,"v":2.4},
{"p":"F","id":"F12","g":"c3","t":0.5,"v":-0.5},{"p":"F","id":"F12","g":"c3","t":1,"v":0.5},{"p":"F","id":"F12","g":"c3","t":3,"v":0.6},{"p":"F","id":"F12","g":"c3","t":6,"v":0.0},{"p":"F","id":"F12","g":"c3","t":12,"v":-0.7},{"p":"F","id":"F12","g":"c3","t":24,"v":-1.3},
{"p":"F","id":"F13","g":"c3","t":0.5,"v":-0.3},{"p":"F","id":"F13","g":"c3","t":1,"v":-0.1},{"p":"F","id":"F13","g":"c3","t":3,"v":0.0},{"p":"F","id":"F13","g":"c3","t":6,"v":0.3},{"p":"F","id":"F13","g":"c3","t":12,"v":1.9},{"p":"F","id":"F13","g":"c3","t":24,"v":1.7},
{"p":"F","id":"F14","g":"c3","t":0.5,"v":0.2},{"p":"F","id":"F14","g":"c3","t":1,"v":0.1},{"p":"F","id":"F14","g":"c3","t":3,"v":0.1},{"p":"F","id":"F14","g":"c3","t":6,"v":0.2},{"p":"F","id":"F14","g":"c3","t":12,"v":0.0},{"p":"F","id":"F14","g":"c3","t":24,"v":0.8},
{"p":"F","id":"F15","g":"c3","t":0.5,"v":0.0},{"p":"F","id":"F15","g":"c3","t":1,"v":0.0},{"p":"F","id":"F15","g":"c3","t":3,"v":-0.2},{"p":"F","id":"F15","g":"c3","t":6,"v":0.1},{"p":"F","id":"F15","g":"c3","t":12,"v":0.0},{"p":"F","id":"F15","g":"c3","t":24,"v":0.1},
{"p":"G","id":"G1","g":"c1","t":0.5,"v":1.0},{"p":"G","id":"G1","g":"c1","t":1,"v":-2.0},{"p":"G","id":"G1","g":"c1","t":3,"v":2.3},{"p":"G","id":"G1","g":"c1","t":6,"v":6.6},{"p":"G","id":"G1","g":"c1","t":12,"v":4.3},{"p":"G","id":"G1","g":"c1","t":24,"v":1.3},
{"p":"G","id":"G2","g":"c1","t":0.5,"v":-0.3},{"p":"G","id":"G2","g":"c1","t":1,"v":-0.8},{"p":"G","id":"G2","g":"c1","t":3,"v":4.2},{"p":"G","id":"G2","g":"c1","t":6,"v":5.4},{"p":"G","id":"G2","g":"c1","t":12,"v":2.5},{"p":"G","id":"G2","g":"c1","t":24,"v":2.8},
{"p":"G","id":"G3","g":"c1","t":0.5,"v":-0.3},{"p":"G","id":"G3","g":"c1","t":1,"v":-1.1},{"p":"G","id":"G3","g":"c1","t":3,"v":3.3},{"p":"G","id":"G3","g":"c1","t":6,"v":4.7},{"p":"G","id":"G3","g":"c1","t":12,"v":2.2},{"p":"G","id":"G3","g":"c1","t":24,"v":2.5},
{"p":"G","id":"G4","g":"c1","t":0.5,"v":-0.1},{"p":"G","id":"G4","g":"c1","t":1,"v":-0.5},{"p":"G","id":"G4","g":"c1","t":3,"v":2.5},{"p":"G","id":"G4","g":"c1","t":6,"v":4.4},{"p":"G","id":"G4","g":"c1","t":12,"v":1.0},{"p":"G","id":"G4","g":"c1","t":24,"v":2.0},
{"p":"G","id":"G5","g":"c1","t":0.5,"v":-0.2},{"p":"G","id":"G5","g":"c1","t":1,"v":-0.2},{"p":"G","id":"G5","g":"c1","t":3,"v":4.3},{"p":"G","id":"G5","g":"c1","t":6,"v":4.5},{"p":"G","id":"G5","g":"c1","t":12,"v":1.5},{"p":"G","id":"G5","g":"c1","t":24,"v":2.9},
{"p":"G","id":"G6","g":"c1","t":0.5,"v":0.0},{"p":"G","id":"G6","g":"c1","t":1,"v":-0.7},{"p":"G","id":"G6","g":"c1","t":3,"v":0.2},{"p":"G","id":"G6","g":"c1","t":6,"v":2.4},{"p":"G","id":"G6","g":"c1","t":12,"v":0.0},{"p":"G","id":"G6","g":"c1","t":24,"v":1.0},
{"p":"G","id":"G7","g":"c1","t":0.5,"v":-0.4},{"p":"G","id":"G7","g":"c1","t":1,"v":-0.4},{"p":"G","id":"G7","g":"c1","t":3,"v":0.0},{"p":"G","id":"G7","g":"c1","t":6,"v":0.0},{"p":"G","id":"G7","g":"c1","t":12,"v":-0.7},{"p":"G","id":"G7","g":"c1","t":24,"v":-0.5},
{"p":"G","id":"G8","g":"c1","t":0.5,"v":0.3},{"p":"G","id":"G8","g":"c1","t":1,"v":-0.3},{"p":"G","id":"G8","g":"c1","t":3,"v":2.1},{"p":"G","id":"G8","g":"c1","t":6,"v":4.2},{"p":"G","id":"G8","g":"c1","t":12,"v":1.4},{"p":"G","id":"G8","g":"c1","t":24,"v":1.3},
{"p":"G","id":"G9","g":"c2","t":0.5,"v":-0.2},{"p":"G","id":"G9","g":"c2","t":1,"v":0.2},{"p":"G","id":"G9","g":"c2","t":3,"v":7.1},{"p":"G","id":"G9","g":"c2","t":6,"v":7.7},{"p":"G","id":"G9","g":"c2","t":12,"v":3.7},{"p":"G","id":"G9","g":"c2","t":24,"v":2.1},
{"p":"G","id":"G10","g":"c2","t":0.5,"v":-0.1},{"p":"G","id":"G10","g":"c2","t":1,"v":0.0},{"p":"G","id":"G10","g":"c2","t":3,"v":6.0},{"p":"G","id":"G10","g":"c2","t":6,"v":7.2},{"p":"G","id":"G10","g":"c2","t":12,"v":2.4},{"p":"G","id":"G10","g":"c2","t":24,"v":1.3},
{"p":"G","id":"G11","g":"c2","t":0.5,"v":-0.4},{"p":"G","id":"G11","g":"c2","t":1,"v":0.0},{"p":"G","id":"G11","g":"c2","t":3,"v":-0.5},{"p":"G","id":"G11","g":"c2","t":6,"v":0.5},{"p":"G","id":"G11","g":"c2","t":12,"v":-0.1},{"p":"G","id":"G11","g":"c2","t":24,"v":0.0},
{"p":"G","id":"G12","g":"c2","t":0.5,"v":0.1},{"p":"G","id":"G12","g":"c2","t":1,"v":0.0},{"p":"G","id":"G12","g":"c2","t":3,"v":-0.3},{"p":"G","id":"G12","g":"c2","t":6,"v":-0.2},{"p":"G","id":"G12","g":"c2","t":12,"v":0.0},{"p":"G","id":"G12","g":"c2","t":24,"v":0.2},
{"p":"G","id":"G13","g":"c3","t":0.5,"v":0.5},{"p":"G","id":"G13","g":"c3","t":1,"v":1.6},{"p":"G","id":"G13","g":"c3","t":3,"v":0.0},{"p":"G","id":"G13","g":"c3","t":6,"v":1.2},{"p":"G","id":"G13","g":"c3","t":12,"v":0.2},{"p":"G","id":"G13","g":"c3","t":24,"v":1.8},
{"p":"G","id":"G14","g":"c3","t":0.5,"v":0.6},{"p":"G","id":"G14","g":"c3","t":1,"v":-0.3},{"p":"G","id":"G14","g":"c3","t":3,"v":0.9},{"p":"G","id":"G14","g":"c3","t":6,"v":1.0},{"p":"G","id":"G14","g":"c3","t":12,"v":-0.4},{"p":"G","id":"G14","g":"c3","t":24,"v":0.6},
{"p":"G","id":"G15","g":"c3","t":0.5,"v":0.0},{"p":"G","id":"G15","g":"c3","t":1,"v":-1.3},{"p":"G","id":"G15","g":"c3","t":3,"v":-1.0},{"p":"G","id":"G15","g":"c3","t":6,"v":-1.0},{"p":"G","id":"G15","g":"c3","t":12,"v":-0.4},{"p":"G","id":"G15","g":"c3","t":24,"v":-0.5},
{"p":"G","id":"G16","g":"c3","t":0.5,"v":0.2},{"p":"G","id":"G16","g":"c3","t":1,"v":0.2},{"p":"G","id":"G16","g":"c3","t":3,"v":0.0},{"p":"G","id":"G16","g":"c3","t":6,"v":0.8},{"p":"G","id":"G16","g":"c3","t":12,"v":0.4},{"p":"G","id":"G16","g":"c3","t":24,"v":1.0},
{"p":"G","id":"G17","g":"c3","t":0.5,"v":-0.2},{"p":"G","id":"G17","g":"c3","t":1,"v":0.0},{"p":"G","id":"G17","g":"c3","t":3,"v":0.0},{"p":"G","id":"G17","g":"c3","t":6,"v":-0.1},{"p":"G","id":"G17","g":"c3","t":12,"v":0.0},{"p":"G","id":"G17","g":"c3","t":24,"v":-0.3},
{"p":"H","id":"H1","g":"c1","t":0.5,"v":-1.0},{"p":"H","id":"H1","g":"c1","t":1,"v":3.2},{"p":"H","id":"H1","g":"c1","t":3,"v":4.2},{"p":"H","id":"H1","g":"c1","t":6,"v":3.0},{"p":"H","id":"H1","g":"c1","t":12,"v":2.5},{"p":"H","id":"H1","g":"c1","t":24,"v":1.6},
{"p":"H","id":"H2","g":"c1","t":0.5,"v":-1.3},{"p":"H","id":"H2","g":"c1","t":1,"v":3.0},{"p":"H","id":"H2","g":"c1","t":3,"v":3.8},{"p":"H","id":"H2","g":"c1","t":6,"v":2.8},{"p":"H","id":"H2","g":"c1","t":12,"v":0.8},{"p":"H","id":"H2","g":"c1","t":24,"v":0.8},
{"p":"H","id":"H3","g":"c1","t":0.5,"v":-0.8},{"p":"H","id":"H3","g":"c1","t":1,"v":2.7},{"p":"H","id":"H3","g":"c1","t":3,"v":3.5},{"p":"H","id":"H3","g":"c1","t":6,"v":2.3},{"p":"H","id":"H3","g":"c1","t":12,"v":0.6},{"p":"H","id":"H3","g":"c1","t":24,"v":0.4},
{"p":"H","id":"H4","g":"c1","t":0.5,"v":-1.1},{"p":"H","id":"H4","g":"c1","t":1,"v":2.9},{"p":"H","id":"H4","g":"c1","t":3,"v":3.9},{"p":"H","id":"H4","g":"c1","t":6,"v":2.7},{"p":"H","id":"H4","g":"c1","t":12,"v":0.9},{"p":"H","id":"H4","g":"c1","t":24,"v":1.2},
{"p":"H","id":"H5","g":"c1","t":0.5,"v":-0.5},{"p":"H","id":"H5","g":"c1","t":1,"v":2.5},{"p":"H","id":"H5","g":"c1","t":3,"v":1.8},{"p":"H","id":"H5","g":"c1","t":6,"v":0.8},{"p":"H","id":"H5","g":"c1","t":12,"v":0.0},{"p":"H","id":"H5","g":"c1","t":24,"v":0.6},
{"p":"H","id":"H6","g":"c1","t":0.5,"v":-1.5},{"p":"H","id":"H6","g":"c1","t":1,"v":2.8},{"p":"H","id":"H6","g":"c1","t":3,"v":3.1},{"p":"H","id":"H6","g":"c1","t":6,"v":1.8},{"p":"H","id":"H6","g":"c1","t":12,"v":0.3},{"p":"H","id":"H6","g":"c1","t":24,"v":1.0},
{"p":"H","id":"H7","g":"c1","t":0.5,"v":-0.7},{"p":"H","id":"H7","g":"c1","t":1,"v":0.5},{"p":"H","id":"H7","g":"c1","t":3,"v":0.5},{"p":"H","id":"H7","g":"c1","t":6,"v":0.5},{"p":"H","id":"H7","g":"c1","t":12,"v":-0.5},{"p":"H","id":"H7","g":"c1","t":24,"v":0.3},
{"p":"H","id":"H8","g":"c1","t":0.5,"v":-0.9},{"p":"H","id":"H8","g":"c1","t":1,"v":1.0},{"p":"H","id":"H8","g":"c1","t":3,"v":0.8},{"p":"H","id":"H8","g":"c1","t":6,"v":0.6},{"p":"H","id":"H8","g":"c1","t":12,"v":0.2},{"p":"H","id":"H8","g":"c1","t":24,"v":0.9},
{"p":"H","id":"H9","g":"c2","t":0.5,"v":-1.7},{"p":"H","id":"H9","g":"c2","t":1,"v":1.6},{"p":"H","id":"H9","g":"c2","t":3,"v":1.4},{"p":"H","id":"H9","g":"c2","t":6,"v":1.2},{"p":"H","id":"H9","g":"c2","t":12,"v":1.7},{"p":"H","id":"H9","g":"c2","t":24,"v":0.5},
{"p":"H","id":"H10","g":"c2","t":0.5,"v":-0.5},{"p":"H","id":"H10","g":"c2","t":1,"v":0.5},{"p":"H","id":"H10","g":"c2","t":3,"v":0.0},{"p":"H","id":"H10","g":"c2","t":6,"v":0.2},{"p":"H","id":"H10","g":"c2","t":12,"v":-0.3},{"p":"H","id":"H10","g":"c2","t":24,"v":-0.2},
{"p":"H","id":"H11","g":"c2","t":0.5,"v":-1.2},{"p":"H","id":"H11","g":"c2","t":1,"v":0.3},{"p":"H","id":"H11","g":"c2","t":3,"v":0.1},{"p":"H","id":"H11","g":"c2","t":6,"v":0.0},{"p":"H","id":"H11","g":"c2","t":12,"v":0.0},{"p":"H","id":"H11","g":"c2","t":24,"v":0.1},
{"p":"H","id":"H12","g":"c3","t":0.5,"v":0.2},{"p":"H","id":"H12","g":"c3","t":1,"v":1.5},{"p":"H","id":"H12","g":"c3","t":3,"v":0.3},{"p":"H","id":"H12","g":"c3","t":6,"v":1.8},{"p":"H","id":"H12","g":"c3","t":12,"v":0.1},{"p":"H","id":"H12","g":"c3","t":24,"v":0.8},
{"p":"H","id":"H13","g":"c3","t":0.5,"v":-0.5},{"p":"H","id":"H13","g":"c3","t":1,"v":-0.7},{"p":"H","id":"H13","g":"c3","t":3,"v":-0.6},{"p":"H","id":"H13","g":"c3","t":6,"v":0.5},{"p":"H","id":"H13","g":"c3","t":12,"v":0.0},{"p":"H","id":"H13","g":"c3","t":24,"v":-0.9},
{"p":"H","id":"H14","g":"c3","t":0.5,"v":0.0},{"p":"H","id":"H14","g":"c3","t":1,"v":0.3},{"p":"H","id":"H14","g":"c3","t":3,"v":-0.3},{"p":"H","id":"H14","g":"c3","t":6,"v":0.2},{"p":"H","id":"H14","g":"c3","t":12,"v":-0.5},{"p":"H","id":"H14","g":"c3","t":24,"v":0.4},
{"p":"H","id":"H15","g":"c3","t":0.5,"v":-0.3},{"p":"H","id":"H15","g":"c3","t":1,"v":0.0},{"p":"H","id":"H15","g":"c3","t":3,"v":0.5},{"p":"H","id":"H15","g":"c3","t":6,"v":-0.2},{"p":"H","id":"H15","g":"c3","t":12,"v":0.3},{"p":"H","id":"H15","g":"c3","t":24,"v":0.2},
{"p":"H","id":"H16","g":"c3","t":0.5,"v":-0.1},{"p":"H","id":"H16","g":"c3","t":1,"v":0.0},{"p":"H","id":"H16","g":"c3","t":3,"v":0.1},{"p":"H","id":"H16","g":"c3","t":6,"v":0.0},{"p":"H","id":"H16","g":"c3","t":12,"v":0.2},{"p":"H","id":"H16","g":"c3","t":24,"v":0.0},
{"p":"I","id":"I1","g":"c1","t":0.5,"v":5.7},{"p":"I","id":"I1","g":"c1","t":1,"v":10.5},{"p":"I","id":"I1","g":"c1","t":3,"v":11.0},{"p":"I","id":"I1","g":"c1","t":6,"v":12.0},{"p":"I","id":"I1","g":"c1","t":12,"v":9.6},{"p":"I","id":"I1","g":"c1","t":24,"v":5.5},
{"p":"I","id":"I2","g":"c1","t":0.5,"v":4.0},{"p":"I","id":"I2","g":"c1","t":1,"v":9.8},{"p":"I","id":"I2","g":"c1","t":3,"v":10.0},{"p":"I","id":"I2","g":"c1","t":6,"v":6.5},{"p":"I","id":"I2","g":"c1","t":12,"v":6.6},{"p":"I","id":"I2","g":"c1","t":24,"v":2.4},
{"p":"I","id":"I3","g":"c1","t":0.5,"v":3.2},{"p":"I","id":"I3","g":"c1","t":1,"v":6.8},{"p":"I","id":"I3","g":"c1","t":3,"v":5.6},{"p":"I","id":"I3","g":"c1","t":6,"v":3.4},{"p":"I","id":"I3","g":"c1","t":12,"v":6.7},{"p":"I","id":"I3","g":"c1","t":24,"v":1.3},
{"p":"I","id":"I4","g":"c1","t":0.5,"v":3.5},{"p":"I","id":"I4","g":"c1","t":1,"v":9.5},{"p":"I","id":"I4","g":"c1","t":3,"v":9.8},{"p":"I","id":"I4","g":"c1","t":6,"v":5.0},{"p":"I","id":"I4","g":"c1","t":12,"v":4.0},{"p":"I","id":"I4","g":"c1","t":24,"v":1.8},
{"p":"I","id":"I5","g":"c1","t":0.5,"v":2.8},{"p":"I","id":"I5","g":"c1","t":1,"v":8.0},{"p":"I","id":"I5","g":"c1","t":3,"v":9.0},{"p":"I","id":"I5","g":"c1","t":6,"v":4.2},{"p":"I","id":"I5","g":"c1","t":12,"v":3.0},{"p":"I","id":"I5","g":"c1","t":24,"v":1.2},
{"p":"I","id":"I6","g":"c1","t":0.5,"v":3.0},{"p":"I","id":"I6","g":"c1","t":1,"v":9.0},{"p":"I","id":"I6","g":"c1","t":3,"v":9.5},{"p":"I","id":"I6","g":"c1","t":6,"v":1.5},{"p":"I","id":"I6","g":"c1","t":12,"v":2.8},{"p":"I","id":"I6","g":"c1","t":24,"v":0.8},
{"p":"I","id":"I7","g":"c1","t":0.5,"v":2.5},{"p":"I","id":"I7","g":"c1","t":1,"v":9.0},{"p":"I","id":"I7","g":"c1","t":3,"v":9.5},{"p":"I","id":"I7","g":"c1","t":6,"v":0.5},{"p":"I","id":"I7","g":"c1","t":12,"v":1.5},{"p":"I","id":"I7","g":"c1","t":24,"v":0.5},
{"p":"I","id":"I8","g":"c2","t":0.5,"v":4.3},{"p":"I","id":"I8","g":"c2","t":1,"v":10.0},{"p":"I","id":"I8","g":"c2","t":3,"v":9.8},{"p":"I","id":"I8","g":"c2","t":6,"v":0.0},{"p":"I","id":"I8","g":"c2","t":12,"v":1.6},{"p":"I","id":"I8","g":"c2","t":24,"v":0.3},
{"p":"I","id":"I9","g":"c2","t":0.5,"v":0.0},{"p":"I","id":"I9","g":"c2","t":1,"v":9.0},{"p":"I","id":"I9","g":"c2","t":3,"v":8.8},{"p":"I","id":"I9","g":"c2","t":6,"v":0.0},{"p":"I","id":"I9","g":"c2","t":12,"v":1.0},{"p":"I","id":"I9","g":"c2","t":24,"v":-0.1},
{"p":"I","id":"I10","g":"c2","t":0.5,"v":3.0},{"p":"I","id":"I10","g":"c2","t":1,"v":10.5},{"p":"I","id":"I10","g":"c2","t":3,"v":11.0},{"p":"I","id":"I10","g":"c2","t":6,"v":10.5},{"p":"I","id":"I10","g":"c2","t":12,"v":7.0},{"p":"I","id":"I10","g":"c2","t":24,"v":0.5},
{"p":"I","id":"I11","g":"c2","t":0.5,"v":2.0},{"p":"I","id":"I11","g":"c2","t":1,"v":9.5},{"p":"I","id":"I11","g":"c2","t":3,"v":10.0},{"p":"I","id":"I11","g":"c2","t":6,"v":0.4},{"p":"I","id":"I11","g":"c2","t":12,"v":1.7},{"p":"I","id":"I11","g":"c2","t":24,"v":0.0},
{"p":"I","id":"I12","g":"c3","t":0.5,"v":-1.4},{"p":"I","id":"I12","g":"c3","t":1,"v":-2.0},{"p":"I","id":"I12","g":"c3","t":3,"v":0.3},{"p":"I","id":"I12","g":"c3","t":6,"v":0.3},{"p":"I","id":"I12","g":"c3","t":12,"v":0.3},{"p":"I","id":"I12","g":"c3","t":24,"v":0.3},
{"p":"I","id":"I13","g":"c3","t":0.5,"v":0.9},{"p":"I","id":"I13","g":"c3","t":1,"v":0.4},{"p":"I","id":"I13","g":"c3","t":3,"v":0.0},{"p":"I","id":"I13","g":"c3","t":6,"v":0.0},{"p":"I","id":"I13","g":"c3","t":12,"v":0.0},{"p":"I","id":"I13","g":"c3","t":24,"v":-0.6},
{"p":"I","id":"I14","g":"c3","t":0.5,"v":0.7},{"p":"I","id":"I14","g":"c3","t":1,"v":-0.2},{"p":"I","id":"I14","g":"c3","t":3,"v":1.8},{"p":"I","id":"I14","g":"c3","t":6,"v":1.7},{"p":"I","id":"I14","g":"c3","t":12,"v":0.1},{"p":"I","id":"I14","g":"c3","t":24,"v":0.6},
{"p":"I","id":"I15","g":"c3","t":0.5,"v":3.1},{"p":"I","id":"I15","g":"c3","t":1,"v":5.0},{"p":"I","id":"I15","g":"c3","t":3,"v":5.6},{"p":"I","id":"I15","g":"c3","t":6,"v":0.0},{"p":"I","id":"I15","g":"c3","t":12,"v":4.0},{"p":"I","id":"I15","g":"c3","t":24,"v":2.8},
{"p":"I","id":"I16","g":"c3","t":0.5,"v":2.9},{"p":"I","id":"I16","g":"c3","t":1,"v":7.9},{"p":"I","id":"I16","g":"c3","t":3,"v":7.4},{"p":"I","id":"I16","g":"c3","t":6,"v":-0.2},{"p":"I","id":"I16","g":"c3","t":12,"v":4.6},{"p":"I","id":"I16","g":"c3","t":24,"v":0.6},
{"p":"I","id":"I17","g":"c3","t":0.5,"v":3.4},{"p":"I","id":"I17","g":"c3","t":1,"v":8.9},{"p":"I","id":"I17","g":"c3","t":3,"v":9.2},{"p":"I","id":"I17","g":"c3","t":6,"v":0.0},{"p":"I","id":"I17","g":"c3","t":12,"v":0.2},{"p":"I","id":"I17","g":"c3","t":24,"v":0.4}
]},
"columns":3,
"spacing":{"row":14,"column":12.5},
"bounds":"flush",
"concat":[
{"width":155,"height":171,"title":"(A)","layer":[
{"data":{"name":"expr"},"transform":[{"filter":"datum.p==='A'"}],"mark":{"type":"line","clip":true,"strokeWidth":1.4},"encoding":{"x":{"field":"t","type":"ordinal","sort":null,"scale":{"type":"point","padding":0.2,"domain":[0.5,1,3,6,12,24]},"axis":null},"y":{"field":"v","type":"quantitative","scale":{"domain":[-4.45,9.5],"nice":false,"zero":false},"axis":{"values":[-4,-2,0,2,4,6,8],"labelExpr":"datum.value==-2?'':''+datum.value","labelAngle":-90,"labelAlign":"center","labelBaseline":"alphabetic","labelPadding":8}},"color":{"field":"g","type":"nominal","scale":{"domain":["c1","c2","c3"],"range":["#000000","#ff0000","#0000ff"]},"legend":null},"detail":{"field":"id"}}},
{"data":{"name":"zero"},"mark":{"type":"rule","color":"black","strokeWidth":1},"encoding":{"y":{"field":"ref","type":"quantitative"}}}]},
{"width":174,"height":171,"title":"(B)","layer":[
{"data":{"name":"expr"},"transform":[{"filter":"datum.p==='B'"}],"mark":{"type":"line","clip":true,"strokeWidth":1.4},"encoding":{"x":{"field":"t","type":"ordinal","sort":null,"scale":{"type":"point","padding":0.2,"domain":[0.5,1,3,6,12,24]},"axis":null},"y":{"field":"v","type":"quantitative","scale":{"domain":[-4.45,9.5],"nice":false,"zero":false},"axis":null},"color":{"field":"g","type":"nominal","scale":{"domain":["c1","c2","c3"],"range":["#000000","#ff0000","#0000ff"]},"legend":null},"detail":{"field":"id"}}},
{"data":{"name":"zero"},"mark":{"type":"rule","color":"black","strokeWidth":1},"encoding":{"y":{"field":"ref","type":"quantitative"}}}]},
{"width":173,"height":171,"title":"(C)","layer":[
{"data":{"name":"expr"},"transform":[{"filter":"datum.p==='C'"}],"mark":{"type":"line","clip":true,"strokeWidth":1.4},"encoding":{"x":{"field":"t","type":"ordinal","sort":null,"scale":{"type":"point","padding":0.2,"domain":[0.5,1,3,6,12,24]},"axis":null},"y":{"field":"v","type":"quantitative","scale":{"domain":[-4.45,9.5],"nice":false,"zero":false},"axis":null},"color":{"field":"g","type":"nominal","scale":{"domain":["c1","c2","c3"],"range":["#000000","#ff0000","#0000ff"]},"legend":null},"detail":{"field":"id"}}},
{"data":{"name":"zero"},"mark":{"type":"rule","color":"black","strokeWidth":1},"encoding":{"y":{"field":"ref","type":"quantitative"}}}]},
{"width":155,"height":171,"title":"(D)","layer":[
{"data":{"name":"expr"},"transform":[{"filter":"datum.p==='D'"}],"mark":{"type":"line","clip":true,"strokeWidth":1.4},"encoding":{"x":{"field":"t","type":"ordinal","sort":null,"scale":{"type":"point","padding":0.2,"domain":[0.5,1,3,6,12,24]},"axis":null},"y":{"field":"v","type":"quantitative","scale":{"domain":[-4.45,9.5],"nice":false,"zero":false},"axis":{"values":[-4,-2,0,2,4,6,8],"labelExpr":"datum.value==-2?'':''+datum.value","labelAngle":-90,"labelAlign":"center","labelBaseline":"alphabetic","labelPadding":8}},"color":{"field":"g","type":"nominal","scale":{"domain":["c1","c2","c3"],"range":["#000000","#ff0000","#0000ff"]},"legend":null},"detail":{"field":"id"}}},
{"data":{"name":"zero"},"mark":{"type":"rule","color":"black","strokeWidth":1},"encoding":{"y":{"field":"ref","type":"quantitative"}}}]},
{"width":174,"height":171,"title":"(E)","layer":[
{"data":{"name":"expr"},"transform":[{"filter":"datum.p==='E'"}],"mark":{"type":"line","clip":true,"strokeWidth":1.4},"encoding":{"x":{"field":"t","type":"ordinal","sort":null,"scale":{"type":"point","padding":0.2,"domain":[0.5,1,3,6,12,24]},"axis":null},"y":{"field":"v","type":"quantitative","scale":{"domain":[-4.45,9.5],"nice":false,"zero":false},"axis":null},"color":{"field":"g","type":"nominal","scale":{"domain":["c1","c2","c3"],"range":["#000000","#ff0000","#0000ff"]},"legend":null},"detail":{"field":"id"}}},
{"data":{"name":"zero"},"mark":{"type":"rule","color":"black","strokeWidth":1},"encoding":{"y":{"field":"ref","type":"quantitative"}}}]},
{"width":173,"height":171,"title":"(F)","layer":[
{"data":{"name":"expr"},"transform":[{"filter":"datum.p==='F'"}],"mark":{"type":"line","clip":true,"strokeWidth":1.4},"encoding":{"x":{"field":"t","type":"ordinal","sort":null,"scale":{"type":"point","padding":0.2,"domain":[0.5,1,3,6,12,24]},"axis":null},"y":{"field":"v","type":"quantitative","scale":{"domain":[-4.45,9.5],"nice":false,"zero":false},"axis":null},"color":{"field":"g","type":"nominal","scale":{"domain":["c1","c2","c3"],"range":["#000000","#ff0000","#0000ff"]},"legend":null},"detail":{"field":"id"}}},
{"data":{"name":"zero"},"mark":{"type":"rule","color":"black","strokeWidth":1},"encoding":{"y":{"field":"ref","type":"quantitative"}}}]},
{"width":155,"height":156,"title":"(G)","layer":[
{"data":{"name":"expr"},"transform":[{"filter":"datum.p==='G'"}],"mark":{"type":"line","clip":true,"strokeWidth":1.4},"encoding":{"x":{"field":"t","type":"ordinal","sort":null,"scale":{"type":"point","padding":0.2,"domain":[0.5,1,3,6,12,24]},"axis":{"labelAngle":0,"labelPadding":12}},"y":{"field":"v","type":"quantitative","scale":{"domain":[-4.45,9.5],"nice":false,"zero":false},"axis":{"values":[-4,-2,0,2,4,6,8],"labelExpr":"datum.value==-2?'':''+datum.value","labelAngle":-90,"labelAlign":"center","labelBaseline":"alphabetic","labelPadding":8}},"color":{"field":"g","type":"nominal","scale":{"domain":["c1","c2","c3"],"range":["#000000","#ff0000","#0000ff"]},"legend":null},"detail":{"field":"id"}}},
{"data":{"name":"zero"},"mark":{"type":"rule","color":"black","strokeWidth":1},"encoding":{"y":{"field":"ref","type":"quantitative"}}}]},
{"width":174,"height":156,"title":"(H)","layer":[
{"data":{"name":"expr"},"transform":[{"filter":"datum.p==='H'"}],"mark":{"type":"line","clip":true,"strokeWidth":1.4},"encoding":{"x":{"field":"t","type":"ordinal","sort":null,"scale":{"type":"point","padding":0.2,"domain":[0.5,1,3,6,12,24]},"axis":{"labelAngle":0,"labelPadding":12}},"y":{"field":"v","type":"quantitative","scale":{"domain":[-4.45,9.5],"nice":false,"zero":false},"axis":null},"color":{"field":"g","type":"nominal","scale":{"domain":["c1","c2","c3"],"range":["#000000","#ff0000","#0000ff"]},"legend":null},"detail":{"field":"id"}}},
{"data":{"name":"zero"},"mark":{"type":"rule","color":"black","strokeWidth":1},"encoding":{"y":{"field":"ref","type":"quantitative"}}}]},
{"width":173,"height":156,"title":"(I)","layer":[
{"data":{"name":"expr"},"transform":[{"filter":"datum.p==='I'"}],"mark":{"type":"line","clip":true,"strokeWidth":1.4},"encoding":{"x":{"field":"t","type":"ordinal","sort":null,"scale":{"type":"point","padding":0.2,"domain":[0.5,1,3,6,12,24]},"axis":{"labelAngle":0,"labelPadding":12}},"y":{"field":"v","type":"quantitative","scale":{"domain":[-4.45,9.5],"nice":false,"zero":false},"axis":null},"color":{"field":"g","type":"nominal","scale":{"domain":["c1","c2","c3"],"range":["#000000","#ff0000","#0000ff"]},"legend":null},"detail":{"field":"id"}}},
{"data":{"name":"zero"},"mark":{"type":"rule","color":"black","strokeWidth":1,"strokeDash":[5,4]},"encoding":{"y":{"field":"ref","type":"quantitative"}}}]}
]
}
